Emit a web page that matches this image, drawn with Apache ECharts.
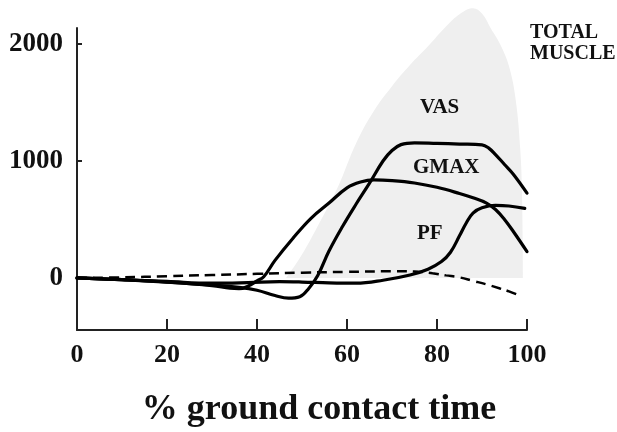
<!DOCTYPE html>
<html><head><meta charset="utf-8">
<script src="https://cdn.jsdelivr.net/npm/echarts@6/dist/echarts.min.js"></script>
<style>html,body{margin:0;padding:0;background:#fff}#c{width:617px;height:432px}</style>
</head><body><div id="c"></div>
<script>
const xTickValues = [0, 20, 40, 60, 80, 100];
const yTickValues = [0, 1000, 2000];
const totalMuscle = [[46.5,0],[50,200],[54,480],[58,780],[62,1150],[66,1430],[70,1640],[74,1820],[78,1980],[82,2150],[85,2255],[88,2306],[90,2260],[92,2130],[94,2000],[96,1810],[97.5,1520],[98.5,1100],[98.9,700],[99.1,0]];
const vas = [[0,0],[10,-15],[20,-35],[30,-60],[36,-80],[40,-105],[44,-150],[47,-172],[49.5,-160],[51.5,-90],[53.5,20],[56,230],[59,440],[62,630],[65,810],[68,1000],[70,1090],[72,1140],[75,1155],[80,1150],[85,1145],[90,1138],[91.5,1110],[93,1055],[95,970],[97,885],[100,725]];
const gmax = [[0,0],[10,-15],[20,-35],[30,-65],[34,-88],[36,-92],[38,-70],[40,-25],[41.5,10],[44,150],[48,340],[52,510],[56,640],[60,770],[63,820],[66,838],[70,832],[75,812],[80,775],[85,722],[88,685],[91,640],[93,585],[95,500],[97,395],[100,225]];
const pf = [[0,0],[10,-15],[20,-30],[30,-45],[38,-40],[45,-32],[50,-35],[56,-42],[62,-45],[68,-20],[74,25],[78,75],[81,140],[83,220],[85,360],[86.5,470],[88,555],[90,600],[93,620],[96,615],[99.5,595]];
const dashedCurve = [[0,0],[10,5],[20,15],[30,25],[40,35],[50,45],[60,52],[70,57],[75,55],[79,40],[82,22],[85,5],[88,-25],[91,-55],[94,-90],[96,-115],[98,-145]];

const serif = '"Liberation Serif", "Times New Roman", serif';
const chart = echarts.init(document.getElementById('c'), null, {renderer: 'canvas'});
const lineStyle = {color: '#000', width: 3.2, join: 'round', cap: 'round'};
function curve(data, z) {
  return {type: 'line', data: data, smooth: 0.4, symbol: 'none', z: z,
    lineStyle: lineStyle, clip: false};
}
chart.setOption({
  animation: false,
  grid: {left: 77, right: 90, top: 28, bottom: 102, containLabel: false},
  xAxis: {
    type: 'value', min: 0, max: 100, interval: 20,
    axisLine: {onZero: false, lineStyle: {color: '#222', width: 2}},
    axisTick: {inside: true, length: 11, lineStyle: {color: '#222', width: 2}},
    axisLabel: {margin: 12, color: '#111', fontFamily: serif, fontWeight: 'bold', fontSize: 26, formatter: v => String(v)},
    splitLine: {show: false}
  },
  yAxis: {
    type: 'value', min: -445, max: 2137,
    axisLine: {show: true, onZero: false, lineStyle: {color: '#222', width: 2}},
    axisTick: {show: true, inside: true, length: 5, customValues: yTickValues, lineStyle: {color: '#222', width: 2}},
    axisLabel: {margin: 14, customValues: yTickValues, color: '#111', fontFamily: serif, fontWeight: 'bold', fontSize: 27, formatter: v => String(v)},
    splitLine: {show: false}
  },
  series: [
    {type: 'line', data: totalMuscle, smooth: 0.4, symbol: 'none', z: 1, clip: false,
      lineStyle: {width: 0}, areaStyle: {color: '#efefef', opacity: 1}},
    curve(vas, 3), curve(gmax, 3), curve(pf, 3),
    {type: 'line', data: dashedCurve, smooth: 0.4, symbol: 'none', z: 2, clip: false,
      lineStyle: {color: '#000', width: 2.5, type: [10, 6]}}
  ],
  graphic: [
    {type: 'text', left: 530, top: 22, z: 10, style: {text: 'TOTAL\nMUSCLE', font: 'bold 20px ' + serif, fill: '#111', lineHeight: 21}},
    {type: 'text', x: 420, y: 108, z: 10, style: {text: 'VAS', font: 'bold 21px ' + serif, fill: '#111', verticalAlign: 'middle'}},
    {type: 'text', x: 413, y: 168, z: 10, style: {text: 'GMAX', font: 'bold 21px ' + serif, fill: '#111', verticalAlign: 'middle'}},
    {type: 'text', x: 417, y: 234, z: 10, style: {text: 'PF', font: 'bold 21px ' + serif, fill: '#111', verticalAlign: 'middle'}},
    {type: 'text', x: 319, y: 410, z: 10, style: {text: '% ground contact time', font: 'bold 36px ' + serif, fill: '#111', align: 'center', verticalAlign: 'middle'}}
  ]
});
</script></body></html>
